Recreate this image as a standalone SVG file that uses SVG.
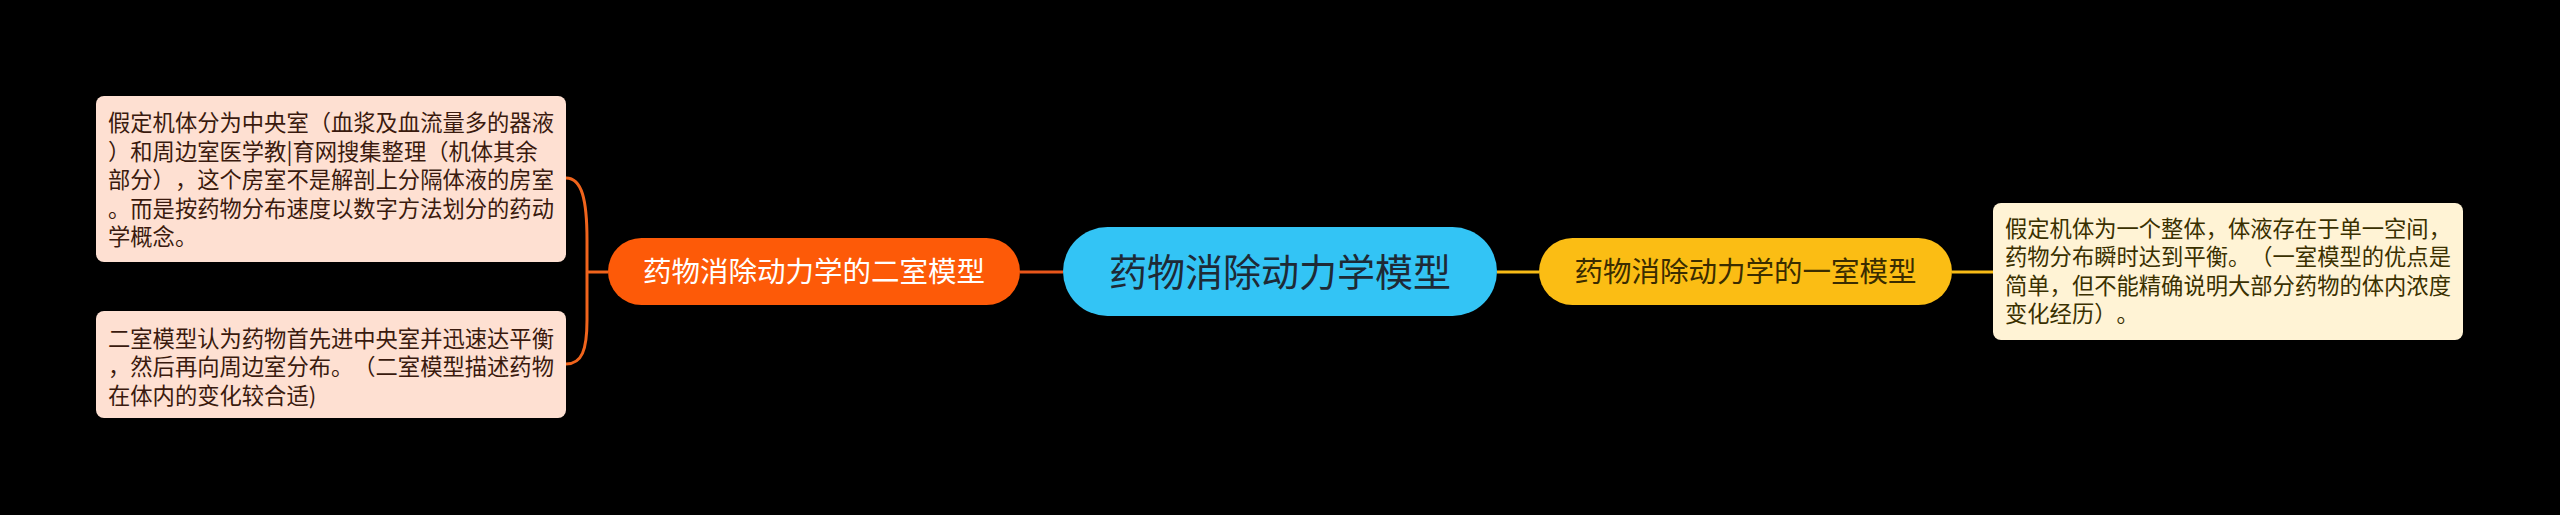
<svg xmlns="http://www.w3.org/2000/svg" width="2560" height="515" viewBox="0 0 2560 515">
<style>
text{text-spacing-trim:space-all;font-kerning:none;font-feature-settings:"halt" 0,"palt" 0,"chws" 0}
.note{font-family:"Noto Sans CJK SC","Noto Sans",sans-serif;font-size:22.3px}
.lnote{fill:#3a1a0e}
.rnote{fill:#3a3000}
.lbl{font-family:"Noto Sans CJK SC","Noto Sans",sans-serif;text-anchor:middle}
.conn{fill:none;stroke-width:3}
</style>
<rect width="2560" height="515" fill="#000"/>
<g id="connectors">
<path class="conn" stroke="#f0641c" d="M566,178 C582,178 587,200 587,240 L587,320 C587,350 582,364 566,364"/>
<path class="conn" stroke="#f0641c" d="M587,272 L608,272"/>
<path class="conn" stroke="#e8561b" d="M1020,272 L1063,272"/>
<path class="conn" stroke="#f7bb16" d="M1497,272 L1539,272"/>
<path class="conn" stroke="#f7bb16" d="M1952,272 L1993,272"/>
</g>
<g id="node-center">
<rect x="1063" y="227" width="434" height="89" rx="44.5" fill="#33c4f5"/>
<text class="lbl" x="1280" y="286" font-size="38" fill="#1e2a36">药物消除动力学模型</text>
</g>
<g id="node-two">
<rect x="608" y="238" width="412" height="67" rx="33.5" fill="#fd5a08"/>
<text class="lbl" x="814" y="282" font-size="28.5" fill="#ffffff">药物消除动力学的二室模型</text>
</g>
<g id="node-one">
<rect x="1539" y="238" width="413" height="67" rx="33.5" fill="#fbbd14"/>
<text class="lbl" x="1745.5" y="282" font-size="28.5" fill="#3a2c00">药物消除动力学的一室模型</text>
</g>
<g id="note-two-a">
<rect x="96" y="96" width="470" height="166" rx="8" fill="#fee0d2"/>
<text class="note lnote">
<tspan x="108" y="131">假定机体分为中央室（血浆及血流量多的器液</tspan>
<tspan x="108" y="159.5">）和周边室医学教|育网搜集整理（机体其余</tspan>
<tspan x="108" y="188">部分），这个房室不是解剖上分隔体液的房室</tspan>
<tspan x="108" y="216.5">。而是按药物分布速度以数字方法划分的药动</tspan>
<tspan x="108" y="245">学概念。</tspan>
</text>
</g>
<g id="note-two-b">
<rect x="96" y="311" width="470" height="107" rx="8" fill="#fee0d2"/>
<text class="note lnote">
<tspan x="108" y="346.5">二室模型认为药物首先进中央室并迅速达平衡</tspan>
<tspan x="108" y="375">，然后再向周边室分布。（二室模型描述药物</tspan>
<tspan x="108" y="403.5">在体内的变化较合适)</tspan>
</text>
</g>
<g id="note-one">
<rect x="1993" y="203" width="470" height="137" rx="8" fill="#fff3d5"/>
<text class="note rnote">
<tspan x="2005" y="236.5">假定机体为一个整体，体液存在于单一空间，</tspan>
<tspan x="2005" y="265">药物分布瞬时达到平衡。（一室模型的优点是</tspan>
<tspan x="2005" y="293.5">简单，但不能精确说明大部分药物的体内浓度</tspan>
<tspan x="2005" y="322">变化经历）。</tspan>
</text>
</g>
</svg>
